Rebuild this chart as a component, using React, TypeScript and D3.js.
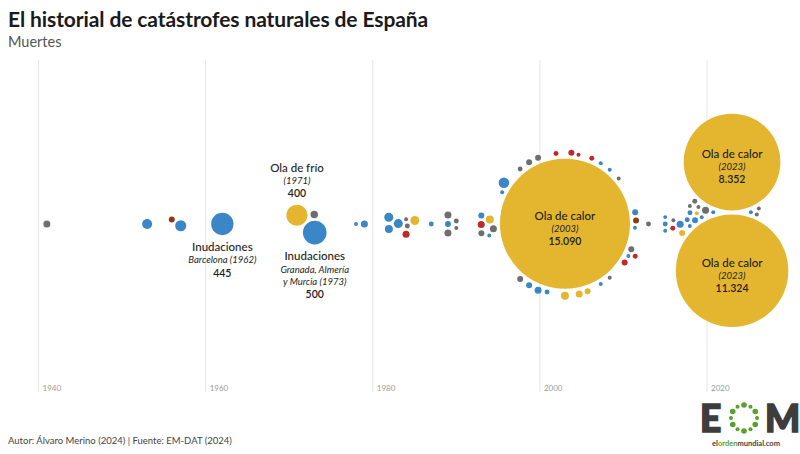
import React, { useMemo } from "react";
import * as d3 from "d3";

const W = 800;
const H = 454;

// Event year, deaths, and disaster type (T = temperatura extrema, F = inundación, S = tormenta, W = incendio, M = movimiento de tierra)
const eventYears = [
  1941, 1953, 1956, 1957, 1962, 1971, 1973, 1973, 1978, 1979,
  1982, 1982, 1983, 1984, 1984, 1984, 1985, 1987, 1989, 1989,
  1989, 1990, 1990, 1993, 1994, 1993, 1994, 1993, 1996, 1995,
  1998, 1999, 2000, 2001, 2004, 2005, 2007, 2009,
  1997, 1998, 1999, 2000, 2002, 2003, 2004, 2005, 2006, 2007, 2008, 2008, 2009, 2010,
  2011, 2011, 2011, 2011, 2011,
  2013, 2015, 2015, 2015, 2016, 2016, 2017, 2017, 2018, 2018, 2018, 2019, 2018, 2019, 2019, 2020, 2020,
  2024, 2025, 2024, 2019, 2020,
  2003, 2023, 2023,
];
const eventDeaths = [
  44, 89, 32, 110, 445, 400, 50, 500, 14, 44,
  72, 57, 72, 22, 14, 44, 72, 22, 44, 44,
  32, 14, 22, 32, 57, 44, 14, 32, 100, 44,
  22, 32, 32, 22, 32, 32, 14, 32,
  14, 32, 32, 44, 22, 57, 14, 44, 22, 14, 14, 14, 14, 32,
  32, 32, 14, 22, 14,
  22, 14, 14, 22, 22, 14, 32, 44, 14, 14, 22, 22, 22, 14, 14, 14, 14,
  14, 14, 14, 32, 44,
  15090, 8352, 11324,
];
const eventTypes = [
  "S", "F", "M", "F", "F", "T", "S", "F", "F", "F",
  "F", "F", "F", "S", "S", "W", "T", "F", "S", "S",
  "F", "S", "S", "S", "T", "W", "F", "F", "F", "S",
  "S", "F", "S", "F", "W", "T", "F", "S",
  "F", "S", "S", "F", "W", "T", "W", "T", "W", "F", "F", "S", "S", "W",
  "M", "F", "F", "W", "F",
  "S", "F", "F", "F", "W", "S", "T", "F", "F", "S", "F", "S", "F", "S", "T", "F", "F",
  "S", "S", "F", "F", "S",
  "T", "T", "T",
];

const typeColors: Record<string, string> = {
  T: "#E4B630",
  F: "#3A86C6",
  S: "#6E6E6E",
  W: "#C1272D",
  M: "#8A3C14",
};

const tickYears = [1940, 1960, 1980, 2000, 2020];

// Annotations: which event (by deaths), title, italic subtitle lines, value, placement
const annDeaths = [445, 400, 500, 15090, 8352, 11324];
const annTitle = ["Inudaciones", "Ola de frío", "Inudaciones", "Ola de calor", "Ola de calor", "Ola de calor"];
const annSub = [
  ["Barcelona (1962)"],
  ["(1971)"],
  ["Granada, Almería", "y Murcia (1973)"],
  ["(2003)"],
  ["(2023)"],
  ["(2023)"],
];
const annValue = ["445", "400", "500", "15.090", "8.352", "11.324"];
const annPlace = ["below", "above", "below", "inside", "inside", "inside"];

const FONT = "Lato, 'Open Sans', sans-serif";

type Node = { i: number; tx: number; r: number; x: number; y: number; vx?: number; vy?: number };

export default function App() {
  const cy = 224;
  const x = d3.scaleLinear().domain([1940, 2020]).range([38.5, 707]);
  const rScale = d3.scaleSqrt().domain([0, 15090]).range([0, 65]);

  const nodes = useMemo(() => {
    const ns: Node[] = eventYears.map((yr, i) => {
      const r = rScale(eventDeaths[i]);
      const sign = i % 2 === 0 ? -1 : 1;
      return { i, tx: x(yr), r, x: x(yr), y: cy + sign * (r > 20 ? 1 : 2.5) };
    });
    const sim = d3
      .forceSimulation(ns as any)
      .force("x", d3.forceX((d: any) => d.tx).strength(0.9))
      .force("y", d3.forceY(cy).strength(0.06))
      .force("collide", d3.forceCollide((d: any) => d.r + (d.r > 20 ? 2 : 1.2)).iterations(4))
      .stop();
    for (let k = 0; k < 400; k++) sim.tick();
    return ns;
  }, []);

  const sorted = [...nodes].sort((a, b) => b.r - a.r);
  const logoDots = d3.range(12);

  return (
    <svg width={W} height={H} style={{ display: "block", position: "absolute", left: 0, top: 0, background: "#fff" }}>
      <rect x={0} y={0} width={W} height={H} fill="#fff" />
      <text x={8} y={27} fontFamily={FONT} fontWeight={700} fontSize={21} fill="#1a1a1a" letterSpacing={-0.1}>
        El historial de catástrofes naturales de España
      </text>
      <text x={8} y={47} fontFamily={FONT} fontSize={14.5} fill="#555">
        Muertes
      </text>

      {tickYears.map((t) => (
        <g key={t}>
          <line x1={x(t)} x2={x(t)} y1={60} y2={392} stroke="#e6e6e6" strokeWidth={1} />
          <text x={x(t) + 4} y={391} fontFamily={FONT} fontSize={8} fill="#9a9a9a">
            {t}
          </text>
        </g>
      ))}

      {sorted.map((n) => (
        <circle key={n.i} cx={n.x} cy={n.y} r={n.r} fill={typeColors[eventTypes[n.i]]} />
      ))}

      {annDeaths.map((dv, a) => {
        const ei = eventDeaths.indexOf(dv);
        const n = nodes[ei];
        if (!n) return null;
        const place = annPlace[a];
        const nLines = 2 + annSub[a].length;
        let y0: number;
        if (place === "below") y0 = n.y + n.r + 16;
        else if (place === "above") y0 = n.y - n.r - 8 - 12.3 * (nLines - 1);
        else y0 = n.y - 4;
        const lines = [
          { t: annTitle[a], style: "normal", weight: 500, size: 11.5 },
          ...annSub[a].map((s) => ({ t: s, style: "italic", weight: 400, size: 9.5 })),
          { t: annValue[a], style: "normal", weight: 600, size: 10.5 },
        ];
        return (
          <g key={a}>
            {lines.map((l, k) => (
              <text
                key={k}
                x={n.x}
                y={y0 + k * 12.3 + (k === lines.length - 1 ? 0.8 : 0)}
                textAnchor="middle"
                fontFamily={FONT}
                fontStyle={l.style}
                fontWeight={l.weight}
                fontSize={l.size}
                fill="#1e1e1e"
              >
                {l.t}
              </text>
            ))}
          </g>
        );
      })}

      <text x={8} y={444} fontFamily={FONT} fontSize={9.5} fill="#444">
        Autor: Álvaro Merino (2024) | Fuente: EM-DAT (2024)
      </text>

      <g>
        <text x={700} y={432} fontFamily={FONT} fontWeight={900} fontSize={37} fill="#3d3d3d" stroke="#3d3d3d" strokeWidth={1.6}>
          E
        </text>
        <text x={765} y={432} fontFamily={FONT} fontWeight={900} fontSize={37} fill="#3d3d3d" stroke="#3d3d3d" strokeWidth={1.6}>
          M
        </text>
        {logoDots.map((k) => {
          const ang = (k / 12) * Math.PI * 2 - Math.PI / 2;
          return (
            <circle
              key={k}
              cx={744 + Math.cos(ang) * 13}
              cy={418 + Math.sin(ang) * 13}
              r={k % 2 === 0 ? 2.8 : 2}
              fill="#5aa02c"
            />
          );
        })}
        <text x={746} y={446} textAnchor="middle" fontFamily={FONT} fontWeight={700} fontSize={7.5} fill="#3d3d3d">
          el<tspan fill="#5aa02c">orden</tspan>mundial.com
        </text>
      </g>
    </svg>
  );
}
